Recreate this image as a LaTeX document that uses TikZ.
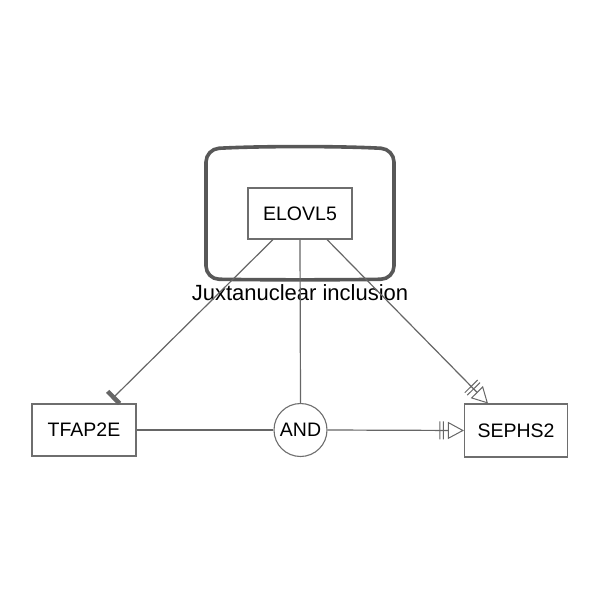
\documentclass[tikz,border=0pt]{standalone}
\usepackage{fontspec}
\setmainfont{Liberation Sans}
\usetikzlibrary{arrows.meta,calc}
\definecolor{edgegray}{HTML}{666666}
\definecolor{boxgray}{HTML}{6E6E6E}
\definecolor{compgray}{HTML}{585858}
\tikzset{
  genebox/.style={draw=boxgray, line width=1.1pt, fill=white, inner sep=0pt, font=\fontsize{19.5}{22}\selectfont},
  andnode/.style={circle, draw=boxgray, line width=1.1pt, fill=white, inner sep=0pt, minimum size=53pt, font=\fontsize{19.5}{22}\selectfont},
  conn/.style={draw=edgegray, line width=1.2pt},
  inhib/.style={conn, -{Bar[width=17pt, line width=4.5pt]}},
  cond/.style={conn, -{Bar[width=18pt, line width=1pt, sep=2.5pt] Bar[width=18pt, line width=1pt, sep=4pt] Triangle[open, length=16pt, width=17pt, line width=1pt]}},
}
\begin{document}
\begin{tikzpicture}[x=1pt, y=-1pt]
\useasboundingbox (0,0) rectangle (600,600);
% compartment
\draw[compgray, line width=3.6pt, rounded corners=13pt]
  (206,149) .. controls (260,146) and (340,146) .. (394,149) -- (394,279) .. controls (340,280) and (260,280) .. (206,279) -- cycle;
\node[font=\fontsize{22}{24}\selectfont, inner sep=0pt] (label) at (300,293) {Juxtanuclear inclusion};
% nodes
\node[genebox, minimum width=104pt, minimum height=51pt] (elovl5) at (300,213.5) {ELOVL5};
\node[genebox, minimum width=104pt, minimum height=52pt] (tfap2e) at (84,430) {TFAP2E};
\node[genebox, minimum width=103pt, minimum height=53pt] (sephs2) at (516,430.5) {SEPHS2};
\node[andnode] (and) at (300.5,430) {AND};
% connector endpoints
\coordinate (eL) at ($(elovl5.south)+(-27,0)$);
\coordinate (eR) at ($(elovl5.south)+(27,0)$);
\coordinate (tIn) at (112,399);
\coordinate (sTop) at (488,403.5);
% connectors
\draw[inhib] (eL) -- (tIn);
\draw[conn] (elovl5.south) -- (and.north);
\draw[cond] (eR) -- (sTop);
\draw[conn] (tfap2e.east) -- (and.west);
\draw[cond] (and.east) -- (sephs2.west);
\end{tikzpicture}
\end{document}
